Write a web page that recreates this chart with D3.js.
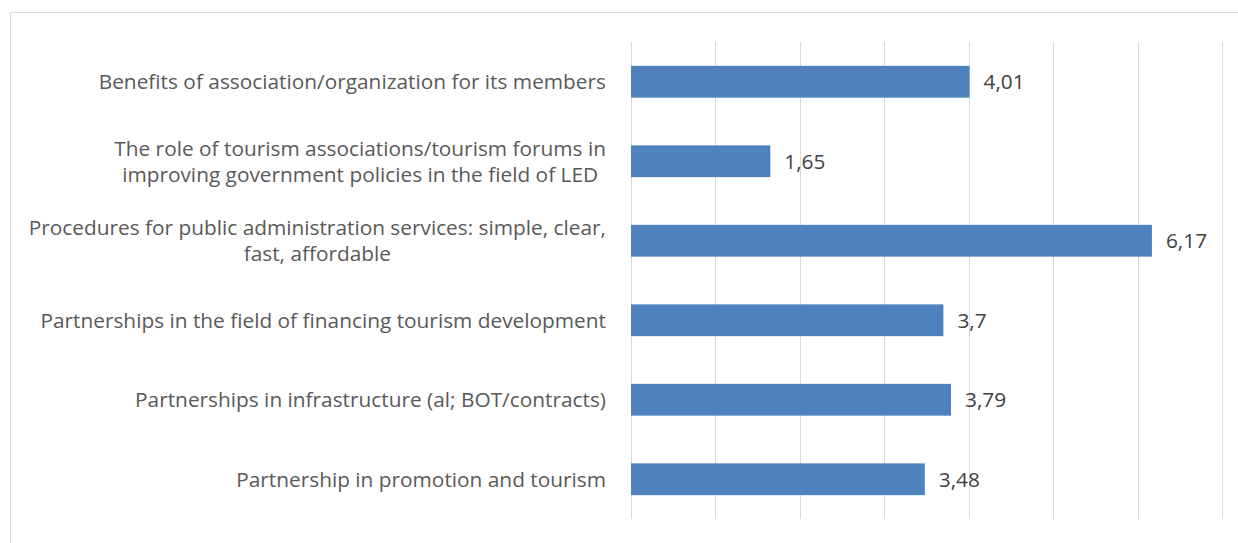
<!DOCTYPE html>
<html><head><meta charset="utf-8">
<script src="https://cdn.jsdelivr.net/npm/d3@7"></script>
<style>body{margin:0;background:#fff}svg{display:block}</style>
</head><body>
<svg id="c" width="1238" height="543"></svg>
<script>
const categories = [
  ["Benefits of association/organization for its members"],
  ["The role of tourism associations/tourism forums in", "improving government policies in the field of LED"],
  ["Procedures for public administration services: simple, clear,", "fast, affordable"],
  ["Partnerships in the field of financing tourism development"],
  ["Partnerships in infrastructure (al; BOT/contracts)"],
  ["Partnership in promotion and tourism"]
];
const values = [4.01, 1.65, 6.17, 3.7, 3.79, 3.48];
const valueLabels = ["4,01", "1,65", "6,17", "3,7", "3,79", "3,48"];
const xTicks = [0, 1, 2, 3, 4, 5, 6, 7];

const svg = d3.select("#c");
const font = "'Open Sans', sans-serif";

// fit font size so the reference label width matches
const probe = svg.append("text").attr("font-family", font).attr("font-size", 20)
  .text("Partnerships in the field of financing tourism development");
const fs = 20 * 566 / probe.node().getComputedTextLength();
probe.remove();

// outer frame
svg.append("path").attr("d", "M10.5,543 L10.5,12.5 L1238,12.5")
  .attr("fill", "none").attr("stroke", "#d9d9d9").attr("stroke-width", 1);

const x = d3.scaleLinear().domain([0, 7]).range([631, 1222]);
const y = d3.scaleBand().domain(d3.range(values.length)).range([42, 519]).paddingInner(0.6).paddingOuter(0.3);

// gridlines
svg.append("g").selectAll("line").data(xTicks).join("line")
  .attr("x1", d => Math.round(x(d)) + 0.5).attr("x2", d => Math.round(x(d)) + 0.5)
  .attr("y1", 42).attr("y2", 519)
  .attr("stroke", "#d9d9d9").attr("stroke-width", 1);

// bars
svg.append("g").selectAll("rect").data(values).join("rect")
  .attr("x", x(0)).attr("y", (d, i) => y(i))
  .attr("width", d => x(d) - x(0)).attr("height", y.bandwidth())
  .attr("fill", "#4f81bd");

// value labels
svg.append("g").selectAll("text").data(values).join("text")
  .attr("x", d => x(d) + 14).attr("y", (d, i) => y(i) + y.bandwidth() / 2)
  .attr("dy", "0.35em")
  .attr("font-family", font).attr("font-size", fs).attr("fill", "#404040")
  .text((d, i) => valueLabels[i]);

// category labels
const labelRight = 606;
const lineH = 26;
categories.forEach((lines, i) => {
  const cy = y(i) + y.bandwidth() / 2;
  const g = svg.append("g");
  const texts = lines.map((ln, j) => g.append("text")
    .attr("font-family", font).attr("font-size", fs).attr("fill", "#595959")
    .attr("text-anchor", "middle")
    .attr("y", cy + (j - (lines.length - 1) / 2) * lineH)
    .attr("dy", "0.35em").text(ln));
  const w = d3.max(texts, t => t.node().getComputedTextLength());
  texts.forEach(t => t.attr("x", labelRight - w / 2));
});
</script>
</body></html>
